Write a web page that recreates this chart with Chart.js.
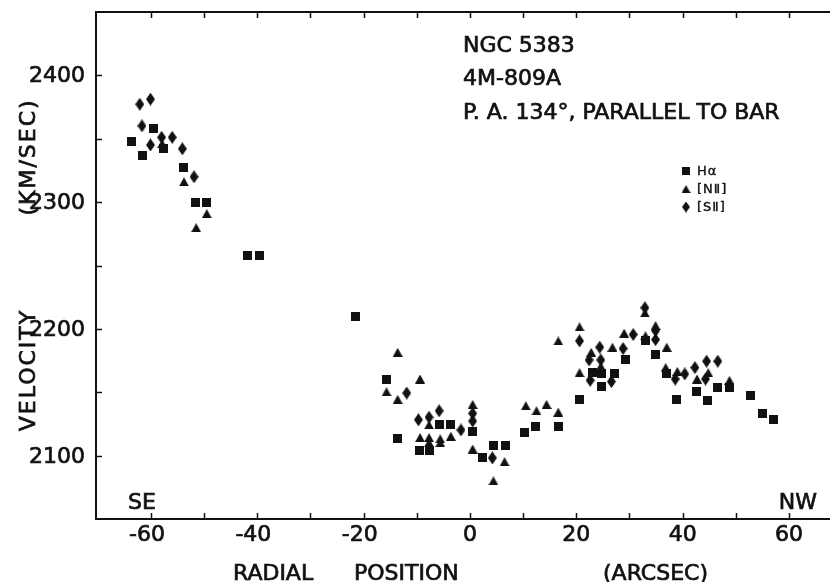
<!DOCTYPE html>
<html><head><meta charset="utf-8">
<script src="https://cdn.jsdelivr.net/npm/chart.js@4/dist/chart.umd.min.js"></script>
<style>html,body{margin:0;padding:0;background:#fff}#wrap{width:830px;height:582px;position:relative}</style>
</head><body><div id="wrap"><canvas id="c"></canvas></div>
<script>
// ---- data (radial position in arcsec, velocity in km/s) ----
const haPos = [-63.6,-61.6,-59.6,-57.7,-53.8,-51.6,-49.5,-41.9,-39.5,-21.5,-15.7,-13.7,-9.5,-7.7,-5.8,-3.6,0.5,2.3,4.4,6.6,10.3,12.4,16.6,20.6,23.1,24.8,24.8,27.1,29.2,33.0,34.9,37.0,38.9,42.6,44.6,46.6,48.8,52.8,55.0,57.0];
const haVel = [2348,2337,2358,2342,2327,2300,2300,2258,2258,2210,2161,2114,2105,2105,2125,2125,2120,2099,2109,2109,2119,2124,2124,2145,2166,2165,2155,2165,2176,2191,2180,2165,2145,2151,2144,2154,2154,2148,2134,2129];
const niiPos = [-57.9,-53.8,-49.5,-51.5,-15.7,-13.6,-13.6,-9.4,-9.4,-7.7,-7.7,-7.7,-5.6,-5.6,-3.6,0.5,0.5,4.4,6.5,10.5,12.5,14.4,16.6,16.6,20.6,20.6,22.8,24.6,26.8,29.0,32.9,33.0,34.9,37.0,36.8,39.0,42.7,44.8,48.8];
const niiVel = [2346,2316,2291,2280,2151,2182,2145,2161,2115,2115,2111,2125,2114,2111,2116,2141,2106,2081,2096,2140,2136,2141,2135,2191,2202,2166,2182,2171,2186,2197,2213,2195,2203,2186,2170,2167,2161,2166,2160];
const siiPos = [-62.1,-60.1,-61.7,-60.1,-58.0,-56.0,-54.1,-51.9,-11.9,-9.7,-7.7,-5.8,-1.7,0.5,0.5,4.2,20.6,22.4,22.6,24.4,24.6,26.6,28.8,30.7,32.9,34.9,34.9,38.6,40.4,42.3,44.5,46.6,44.3];
const siiVel = [2377,2381,2360,2345,2351,2351,2342,2320,2150,2129,2131,2136,2121,2134,2128,2099,2191,2176,2160,2186,2176,2159,2185,2196,2217,2199,2192,2161,2165,2170,2175,2175,2161];
const seriesNames = ['H\u03B1', '[N\u2161]', '[S\u2161]'];
const xTickValues = [-60,-40,-20,0,20,40,60];
const yTickValues = [2100,2200,2300,2400];
const headerLines = ['NGC 5383', '4M-809A', 'P. A. 134\u00B0, PARALLEL TO BAR'];

// ---- helpers ----
const INK = '#111';
function marker(shape, w, h) {
  const c = document.createElement('canvas'); c.width = w; c.height = h;
  const g = c.getContext('2d'); g.fillStyle = INK; g.beginPath();
  if (shape === 'square') g.rect(0, 0, w, h);
  else if (shape === 'triangle') { g.moveTo(w/2, 0); g.lineTo(w, h); g.lineTo(0, h); g.closePath(); }
  else { g.moveTo(w/2, 0); g.lineTo(w, h/2); g.lineTo(w/2, h); g.lineTo(0, h/2); g.closePath(); }
  g.fill(); return c;
}
const mkSquare = marker('square', 9, 9);
const mkTri = marker('triangle', 10, 9);
const mkDia = marker('diamond', 9, 13);
const lgSquare = marker('square', 8, 8);
const lgTri = marker('triangle', 9, 8);
const lgDia = marker('diamond', 8, 11);
const pts = (xs, ys) => xs.map((x, i) => ({x, y: ys[i]}));

const FONT = 'DejaVu Sans';
function txt(ctx, s, x, y) { ctx.fillText(s, x, y); ctx.strokeText(s, x, y); }
const decor = {
  id: 'decor',
  afterDraw(chart) {
    const ctx = chart.ctx, a = chart.chartArea;
    const xs = chart.scales.x, ys = chart.scales.y;
    ctx.save();
    ctx.strokeStyle = INK; ctx.lineWidth = 1.5;
    // inward tick marks
    ctx.beginPath();
    xs.ticks.forEach(t => {
      const p = Math.round(xs.getPixelForValue(t.value)) + 0.5;
      if (p < a.left + 4 || p > a.right - 4) return;
      ctx.moveTo(p, a.bottom); ctx.lineTo(p, a.bottom - 6);
      ctx.moveTo(p, a.top); ctx.lineTo(p, a.top + 6);
    });
    ys.ticks.forEach(t => {
      const p = Math.round(ys.getPixelForValue(t.value)) + 0.5;
      if (p < a.top + 4 || p > a.bottom - 4) return;
      ctx.moveTo(a.left, p); ctx.lineTo(a.left + 6, p);
    });
    ctx.stroke();
    ctx.fillStyle = INK;
    ctx.lineWidth = 0.7;
    ctx.textBaseline = 'middle';
    ctx.font = '22px "' + FONT + '"';
    // tick labels
    ctx.textAlign = 'center';
    const minusW = ctx.measureText('-').width;
    xTickValues.forEach(v => {
      const p = xs.getPixelForValue(v);
      txt(ctx, String(v), v < 0 ? p - minusW / 2 : p, 535);
    });
    ctx.textAlign = 'right';
    yTickValues.forEach(v => txt(ctx, String(v), 85, ys.getPixelForValue(v) + 1));
    // header text
    ctx.textAlign = 'left';
    headerLines.forEach((s, i) => txt(ctx, s, 463, 46 + i * 33.5));
    // SE / NW
    txt(ctx, 'SE', 128, 503);
    ctx.textAlign = 'right';
    txt(ctx, 'NW', 817, 503);
    // x axis title
    ctx.textAlign = 'left';
    txt(ctx, 'RADIAL', 233, 574);
    txt(ctx, 'POSITION', 354, 574);
    txt(ctx, '(ARCSEC)', 603, 574);
    // y axis title
    ctx.save();
    ctx.translate(29, 0); ctx.rotate(-Math.PI / 2);
    ctx.textAlign = 'center';
    if ('letterSpacing' in ctx) ctx.letterSpacing = '2px';
    txt(ctx, 'VELOCITY', -370, 0);
    txt(ctx, '(KM/SEC)', -157, 0);
    ctx.restore();
    // legend
    ctx.font = '13px "' + FONT + '"';
    ctx.textAlign = 'left';
    ctx.lineWidth = 0.4;
    if ('letterSpacing' in ctx) ctx.letterSpacing = '1px';
    const imgs = [lgSquare, lgTri, lgDia];
    const rows = [171, 189, 207];
    imgs.forEach((im, i) => {
      ctx.drawImage(im, 686 - im.width/2, rows[i] - im.height/2);
      txt(ctx, seriesNames[i], 697, rows[i] + 1);
    });
    ctx.restore();
  }
};

Chart.defaults.font.family = FONT;
Chart.defaults.color = INK;
new Chart(document.getElementById('c'), {
  type: 'scatter',
  data: { datasets: [
    { label: seriesNames[0], data: pts(haPos, haVel), pointStyle: mkSquare, pointRadius: 5, backgroundColor: INK, borderColor: INK },
    { label: seriesNames[1], data: pts(niiPos, niiVel), pointStyle: mkTri, pointRadius: 5, backgroundColor: INK, borderColor: INK },
    { label: seriesNames[2], data: pts(siiPos, siiVel), pointStyle: mkDia, pointRadius: 5, backgroundColor: INK, borderColor: INK }
  ]},
  options: {
    responsive: true, maintainAspectRatio: false, animation: false, events: [],
    layout: { autoPadding: false, padding: { top: 12, right: 0, left: 0, bottom: 0 } },
    plugins: { legend: { display: false }, tooltip: { enabled: false } },
    scales: {
      x: {
        type: 'linear', position: 'bottom', min: -70.34, max: 67.71,
        grid: { display: false, drawTicks: false },
        border: { display: true, color: INK, width: 2 },
        ticks: { stepSize: 10, includeBounds: false, display: false },
        afterFit: s => { s.height = 63; }
      },
      xTop: {
        type: 'linear', position: 'top', min: -70.34, max: 67.71,
        grid: { display: false, drawTicks: false },
        border: { display: true, color: INK, width: 2 },
        ticks: { display: false },
        afterFit: s => { s.height = 0; }
      },
      y: {
        type: 'linear', min: 2051, max: 2449.5,
        grid: { display: false, drawTicks: false },
        border: { display: true, color: INK, width: 2 },
        ticks: { stepSize: 50, includeBounds: false, display: false },
        afterFit: s => { s.width = 96; }
      }
    }
  },
  plugins: [decor]
});
</script>
</body></html>
